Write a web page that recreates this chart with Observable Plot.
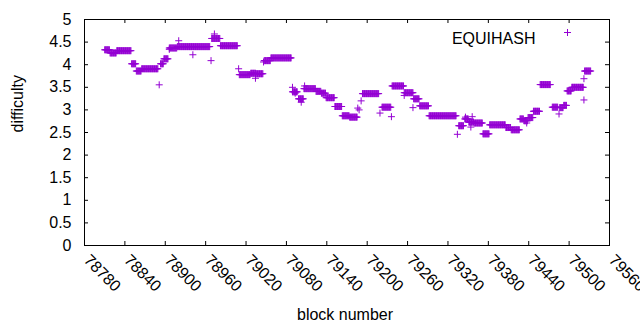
<!DOCTYPE html>
<html><head><meta charset="utf-8">
<script src="https://cdn.jsdelivr.net/npm/d3@7"></script>
<script src="https://cdn.jsdelivr.net/npm/@observablehq/plot@0.6"></script>
<style>
body{margin:0;background:#fff}
svg{font-family:"Liberation Sans",Arial,sans-serif}
</style>
</head><body><div id="chart"></div>
<script>
// Runs of blocks with a constant difficulty (first block, last block, value)
const runStart = [78810,78818,78828,78850,78857,78865,78893,78898,78906,78918,78969,78982,79010,79027,79035,79047,79057,79089,79098,79106,79124,79132,79139,79152,79163,79174,79193,79222,79237,79255,79269,79278,79292,79336,79345,79351,79359,79372,79382,79406,79414,79427,79433,79439,79447,79457,79475,79486,79492,79497,79504,79523];
const runEnd   = [78817,78827,78849,78856,78864,78889,78897,78904,78917,78966,78981,79007,79026,79034,79045,79056,79087,79096,79105,79123,79131,79138,79151,79162,79173,79185,79217,79235,79254,79268,79277,79291,79332,79343,79350,79358,79371,79381,79405,79413,79426,79432,79438,79446,79456,79472,79483,79491,79496,79503,79521,79532];
const runDiff  = [4.33,4.26,4.31,4.02,3.86,3.91,4.02,4.13,4.37,4.40,4.58,4.42,3.78,3.81,3.80,4.09,4.15,3.40,3.245,3.47,3.41,3.37,3.27,3.075,2.87,2.84,3.36,3.06,3.53,3.38,3.245,3.09,2.87,2.65,2.80,2.73,2.71,2.47,2.67,2.61,2.56,2.80,2.76,2.83,2.97,3.56,3.06,3.05,3.10,3.42,3.50,3.86];
// Isolated blocks
const singleBlock = [78891,78906,78920,78941,78968,78973,79009,79034,79046,79089,79093,79102,79107,79186,79188,79191,79219,79236,79255,79268,79334,79346,79354,79356,79437,79485,79522,79522];
const singleDiff  = [3.555,4.34,4.53,4.22,4.09,4.68,3.91,3.70,4.06,3.50,3.37,3.17,3.53,3.04,3.00,3.20,2.93,2.85,3.32,3.05,2.46,2.84,2.62,2.85,2.71,2.91,3.22,3.69];

const xTicks = [78780,78840,78900,78960,79020,79080,79140,79200,79260,79320,79380,79440,79500,79560];
const yTicks = [0,0.5,1,1.5,2,2.5,3,3.5,4,4.5,5];
const seriesName = "EQUIHASH";
const xLabel = "block number";
const yLabel = "difficulty";
const color = "#9400d3";

const points = [];
runStart.forEach((s, i) => { for (let b = s; b <= runEnd[i]; b++) points.push({block: b, difficulty: runDiff[i]}); });
singleBlock.forEach((b, i) => points.push({block: b, difficulty: singleDiff[i]}));

const plus = {draw(ctx, size) { const r = Math.sqrt(size / Math.PI); ctx.moveTo(-r, 0); ctx.lineTo(r, 0); ctx.moveTo(0, -r); ctx.lineTo(0, r); }};

const W = 640, H = 330, mL = 84, mR = 31, mT = 19, mB = 85;
const fw = W - mL - mR, fh = H - mT - mB;

const chart = Plot.plot({
  width: W, height: H,
  marginLeft: mL, marginRight: mR, marginTop: mT, marginBottom: mB,
  style: {fontSize: "16px", fontFamily: "'Liberation Sans', Arial, sans-serif", color: "#000", background: "#fff"},
  x: {domain: [78780, 79560], axis: null},
  y: {domain: [0, 5], axis: null},
  marks: [
    Plot.dot(points, {x: "block", y: "difficulty", symbol: plus, r: 3.5, stroke: color, fill: "none", strokeWidth: 1}),
    Plot.frame({stroke: "#000"}),
    Plot.tickX(xTicks, {x: d => d, insetTop: fh - 4, stroke: "#000"}),
    Plot.tickX(xTicks, {x: d => d, insetBottom: fh - 4, stroke: "#000"}),
    Plot.tickY(yTicks, {y: d => d, insetRight: fw - 4, stroke: "#000"}),
    Plot.tickY(yTicks, {y: d => d, insetLeft: fw - 4, stroke: "#000"}),
    Plot.text(yTicks, {y: d => d, text: d => String(d), frameAnchor: "left", textAnchor: "end", dx: -13, fontSize: 16}),
    Plot.text(xTicks, {x: d => d, text: d => String(d), frameAnchor: "bottom", rotate: 45, textAnchor: "start", lineAnchor: "middle", dx: 2, dy: 12, fontSize: 16}),
    Plot.text([yLabel], {text: d => d, frameAnchor: "left", dx: -67, rotate: -90, fontSize: 16}),
    Plot.text([xLabel], {text: d => d, frameAnchor: "bottom", dx: -2, dy: 74, fontSize: 16}),
    Plot.text([seriesName], {text: d => d, frameAnchor: "top-right", dx: -74, dy: 13, textAnchor: "end", fontSize: 16}),
    Plot.dot([seriesName], {frameAnchor: "top-right", dx: -42, dy: 13, symbol: plus, r: 3.5, stroke: color, fill: "none", strokeWidth: 1})
  ]
});
document.getElementById("chart").appendChild(chart);
</script>
</body></html>
